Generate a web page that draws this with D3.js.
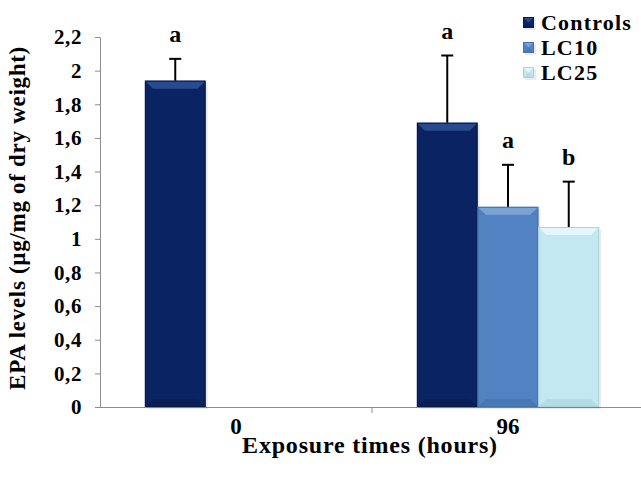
<!DOCTYPE html>
<html>
<head>
<meta charset="utf-8">
<script src="https://cdn.jsdelivr.net/npm/d3@7/dist/d3.min.js"></script>
<style>
  html, body { margin: 0; padding: 0; background: #ffffff; }
  svg { display: block; }
  svg text { font-family: "Liberation Serif", "Times New Roman", Times, "DejaVu Serif", serif !important; font-weight: bold; fill: #000; }
</style>
</head>
<body>
<svg id="chart" width="641" height="478"></svg>
<script>
// ---- data ----
const categories = ["0", "96"];
const seriesNames = ["Controls", "LC10", "LC25"];
const controlsValues = [1.94, 1.69];
const lc10Values = [null, 1.19];
const lc25Values = [null, 1.07];
const controlsErrors = [0.13, 0.40];
const lc10Errors = [null, 0.25];
const lc25Errors = [null, 0.27];
const controlsLetters = ["a", "a"];
const lc10Letters = [null, "a"];
const lc25Letters = [null, "b"];
const yTickValues = [0, 0.2, 0.4, 0.6, 0.8, 1, 1.2, 1.4, 1.6, 1.8, 2, 2.2];
const yTickLabels = ["0", "0,2", "0,4", "0,6", "0,8", "1", "1,2", "1,4", "1,6", "1,8", "2", "2,2"];
const yTitle = "EPA levels (µg/mg of dry weight)";
const xTitle = "Exposure times (hours)";

const seriesColors = ["#0a2463", "#5282c2", "#c3e8f2"];
const bevelLight = ["#2a4a8e", "#7aa3d6", "#e4f6fb"];
const bevelDark = ["#061a4c", "#4572ad", "#a9d3de"];

// ---- build table ----
const valuesBySeries = [controlsValues, lc10Values, lc25Values];
const errorsBySeries = [controlsErrors, lc10Errors, lc25Errors];
const lettersBySeries = [controlsLetters, lc10Letters, lc25Letters];
const rows = [];
categories.forEach((c, ci) => {
  seriesNames.forEach((s, si) => {
    const v = valuesBySeries[si][ci];
    if (v != null) rows.push({cat: c, series: s, si, value: v, err: errorsBySeries[si][ci], letter: lettersBySeries[si][ci]});
  });
});

const FONT = "Liberation Serif, Times New Roman, serif";
const svg = d3.select("#chart");
const plotLeft = 100, plotRight = 644, plotTop = 37, plotBottom = 407;

const y = d3.scaleLinear().domain([0, 2.2]).range([plotBottom, plotTop]);
const x0 = d3.scaleBand().domain(categories).range([plotLeft, plotRight]).paddingInner(0.33).paddingOuter(0.165);
const x1 = d3.scaleBand().domain(seriesNames).range([0, x0.bandwidth()]).padding(0);

// y axis
const yAxis = d3.axisLeft(y).tickValues(yTickValues).tickSize(5).tickSizeOuter(0)
  .tickFormat((d, i) => yTickLabels[i]);
const gy = svg.append("g").attr("transform", `translate(${plotLeft},0)`).call(yAxis)
  .attr("font-family", FONT);
gy.select(".domain").attr("stroke", "#8c8c8c");
gy.selectAll(".tick line").attr("stroke", "#8c8c8c");
gy.selectAll(".tick text").attr("x", -18).attr("font-size", 21).attr("letter-spacing", 0.6)
  .attr("font-family", FONT).attr("font-weight", "bold").attr("fill", "#000");

// x axis line with ticks at band boundaries
const step = x0.step();
const gx = svg.append("g");
gx.append("line").attr("x1", plotLeft).attr("x2", 641).attr("y1", plotBottom + 0.5).attr("y2", plotBottom + 0.5).attr("stroke", "#8c8c8c");
categories.forEach((c, i) => {
  const bx = plotLeft + step * (i + 1);
  gx.append("line").attr("x1", bx).attr("x2", bx).attr("y1", plotBottom).attr("y2", plotBottom + 6).attr("stroke", "#8c8c8c");
  gx.append("text").attr("x", x0(c) + x0.bandwidth() / 2).attr("y", plotBottom + 27)
    .attr("text-anchor", "middle").attr("font-family", FONT).attr("font-size", 23).text(c);
});

// bars with bevel
function bevelBar(g, bx, by, w, h, si) {
  const b = Math.min(8, h / 2);
  g.append("rect").attr("x", bx + 2).attr("y", by + 2).attr("width", w).attr("height", h).attr("fill", "#000").attr("opacity", 0.08);
  g.append("rect").attr("x", bx).attr("y", by).attr("width", w).attr("height", h).attr("fill", seriesColors[si]);
  g.append("polygon").attr("points", [[bx, by], [bx + w, by], [bx + w - b, by + b], [bx + b, by + b]].map(p => p.join(",")).join(" "))
    .attr("fill", bevelLight[si]);
  g.append("polygon").attr("points", [[bx, by + h], [bx + b, by + h - b], [bx + w - b, by + h - b], [bx + w, by + h]].map(p => p.join(",")).join(" "))
    .attr("fill", bevelDark[si]).attr("opacity", 0.6);
  g.append("rect").attr("x", bx + 0.5).attr("y", by + 0.5).attr("width", w - 1).attr("height", h - 1)
    .attr("fill", "none").attr("stroke", bevelDark[si]).attr("stroke-width", 1);
}

const gb = svg.append("g");
rows.forEach(r => {
  const bx = x0(r.cat) + x1(r.series);
  const w = x1.bandwidth();
  const by = y(r.value);
  bevelBar(gb, bx, by, w, plotBottom - by, r.si);
});

// error bars
const ge = svg.append("g");
rows.forEach(r => {
  const cx = x0(r.cat) + x1(r.series) + x1.bandwidth() / 2;
  const yt = y(r.value + r.err);
  ge.append("line").attr("x1", cx).attr("x2", cx).attr("y1", y(r.value)).attr("y2", yt).attr("stroke", "#000").attr("stroke-width", 2);
  ge.append("line").attr("x1", cx - 6).attr("x2", cx + 6).attr("y1", yt).attr("y2", yt).attr("stroke", "#000").attr("stroke-width", 2);
  ge.append("text").attr("x", cx).attr("y", yt - 17).attr("text-anchor", "middle")
    .attr("font-family", FONT).attr("font-size", 24).text(r.letter);
});

// legend
const lg = svg.append("g");
seriesNames.forEach((s, i) => {
  const ly = 22 + i * 25;
  bevelBar(lg, 523, ly - 5, 11, 11, i);
  lg.append("text").attr("x", 541).attr("y", ly + 8).attr("font-family", FONT).attr("font-size", 22)
    .attr("letter-spacing", 1.2).text(s);
});

// titles
svg.append("text").attr("transform", `translate(25,218) rotate(-90)`)
  .attr("text-anchor", "middle").attr("font-family", FONT).attr("font-size", 23)
  .attr("letter-spacing", 0.7).text(yTitle);
svg.append("text").attr("x", 370).attr("y", 453).attr("text-anchor", "middle")
  .attr("font-family", FONT).attr("font-size", 24).attr("letter-spacing", 0.8).text(xTitle);
</script>
</body>
</html>
